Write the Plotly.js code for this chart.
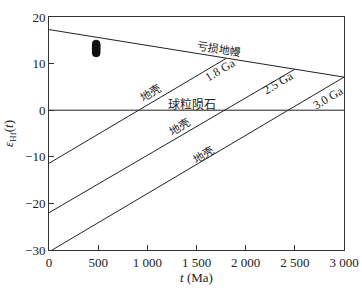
<!DOCTYPE html>
<html><head><meta charset="utf-8">
<script src="https://cdn.plot.ly/plotly-3.0.1.min.js"></script>
<style>html,body{margin:0;padding:0;background:#fff}#c{width:362px;height:292px}</style>
</head><body><div id="c"></div>
<script>
// Model lines (age in Ma, epsilon Hf)
var dmX = [0, 3000];
var dmY = [17.3, 7.1];
var churX = [0, 3000];
var churY = [0, 0];
var crust18X = [0, 1800];
var crust18Y = [-11.4, 11.1];
var crust25X = [0, 2500];
var crust25Y = [-22.0, 8.8];
var crust30X = [0, 3000];
var crust30Y = [-30.4, 7.1];
// Zircon data
var sampleAge = [480, 480, 480, 480, 480, 480, 480];
var sampleEps = [12.3, 12.6, 13.0, 13.3, 13.6, 13.9, 14.2];
var xTicks = [0, 500, 1000, 1500, 2000, 2500, 3000];
var xTickText = ['0', '500', '1 000', '1 500', '2 000', '2 500', '3 000'];
var yTicks = [-30, -20, -10, 0, 10, 20];

var lineStyle = {color: '#222', width: 1};
function ln(x, y) { return {x: x, y: y, mode: 'lines', line: lineStyle, hoverinfo: 'skip', showlegend: false}; }
var traces = [
  ln(dmX, dmY), ln(churX, churY), ln(crust18X, crust18Y), ln(crust25X, crust25Y), ln(crust30X, crust30Y),
  {x: sampleAge, y: sampleEps, mode: 'markers', showlegend: false,
   marker: {symbol: 'circle', size: 8, color: '#111', line: {color: '#111', width: 0.5}}}
];

var F = 'Liberation Serif, Times New Roman, serif';
var CJK = 'Noto Sans CJK SC, serif';
function ann(text, x, y, ang, size) {
  return {text: text, xref: 'paper', yref: 'paper', x: x, y: y, showarrow: false,
          xanchor: 'center', yanchor: 'middle',
          textangle: ang, font: {family: CJK, size: size || 11, color: '#222'}};
}
// convert pixel to paper coords: plot area x 49..344, y 17..250
function px(x) { return (x - 49) / 295; }
function py(y) { return (250 - y) / 233; }

var layout = {
  width: 362, height: 292,
  margin: {l: 49, r: 18, t: 17, b: 42},
  paper_bgcolor: '#fff', plot_bgcolor: '#fff',
  xaxis: {range: [0, 3000], tickvals: xTicks, ticktext: xTickText, ticks: 'inside', ticklen: 5,
          tickcolor: '#333', showline: true, linecolor: '#333', linewidth: 1, mirror: true,
          showgrid: false, zeroline: false, tickfont: {family: F, size: 13, color: '#222'},
          title: {text: '<i>t</i> (Ma)', font: {family: F, size: 13, color: '#222'}, standoff: 3}},
  yaxis: {range: [-30, 20], tickvals: yTicks, ticks: 'inside', ticklen: 5,
          tickcolor: '#333', showline: true, linecolor: '#333', linewidth: 1, mirror: true,
          showgrid: false, zeroline: false, tickfont: {family: F, size: 13, color: '#222'},
          title: {text: '<i>ε</i><sub>Hf</sub>(<i>t</i>)', font: {family: F, size: 13, color: '#222'}, standoff: 8}},
  annotations: [
    ann('亏损地幔', px(219), py(48), 9, 11),
    ann('1.8 Ga', px(220), py(70), -31, 12),
    ann('2.5 Ga', px(278), py(83), -31, 12),
    ann('3.0 Ga', px(328), py(98), -31, 12),
    ann('地壳', px(150), py(92), -31, 11),
    ann('地壳', px(179), py(126), -31, 11),
    ann('地壳', px(203), py(154), -31, 11),
    ann('球粒陨石', px(192), py(103), 0, 12)
  ]
};
layout.annotations.forEach(function(a){ if (/Ga/.test(a.text)) a.font.family = F; });
Plotly.newPlot('c', traces, layout, {displayModeBar: false, staticPlot: true});
</script></body></html>
